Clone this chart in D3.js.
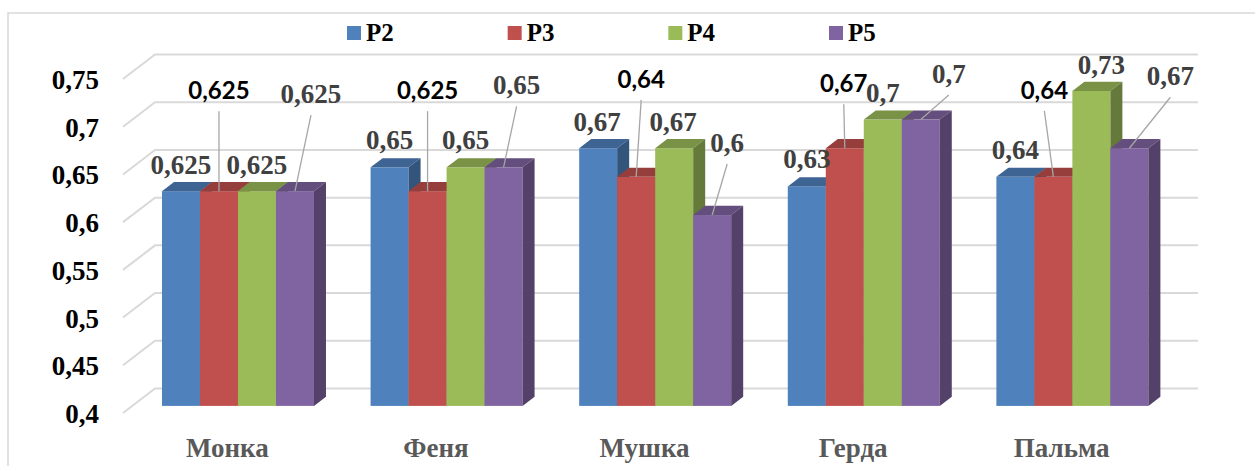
<!DOCTYPE html>
<html><head><meta charset="utf-8">
<script src="https://cdn.jsdelivr.net/npm/d3@7/dist/d3.min.js"></script>
<style>html,body{margin:0;padding:0;background:#fff;}svg{display:block;}
.serif{font-family:"Liberation Serif","Times New Roman",Tinos,"DejaVu Serif",serif;font-weight:bold;}
.sans{font-family:Lato,"Open Sans",sans-serif;font-weight:bold;}
</style>
</head><body>
<svg id="chart" width="1255" height="466"></svg>
<script>
// ---- data ----
const categories = ["Монка", "Феня", "Мушка", "Герда", "Пальма"];
const seriesNames = ["P2", "P3", "P4", "P5"];
const P2 = [0.625, 0.65, 0.67, 0.63, 0.64];
const P3 = [0.625, 0.625, 0.64, 0.67, 0.64];
const P4 = [0.625, 0.65, 0.67, 0.7, 0.73];
const P5 = [0.625, 0.65, 0.6, 0.7, 0.67];
const yTicks = [0.4, 0.45, 0.5, 0.55, 0.6, 0.65, 0.7, 0.75];
const seriesValues = [P2, P3, P4, P5];

// ---- layout (not data) ----
const colors = ["#4F81BD", "#C0504D", "#9BBB59", "#8064A2"];
const DX = 32, DY = -24.5;      // full depth shift
const z0 = 0.29, z1 = 0.665;    // bar depth range
// label offsets [dx, dy] relative to bar front-top centre; leader flags per series
const labelOffsets = [
  [[0,-17],[0,-92],[0,-17],[16,-88]],
  [[0,-18],[0,-92],[0,-18],[13,-73]],
  [[-1,-17],[5,-89],[-1,-17],[15,-63]],
  [[0,-18],[-1,-56],[0,-17.5],[28,-36.5]],
  [[0,-18],[-9,-78],[10,-17],[41,-63]]
];
const hasLeader = [false, true, false, true];

const svg = d3.select("#chart");
const fmt = v => String(v).replace(".", ",");

// frame
svg.append("rect").attr("x", 8).attr("y", 13).attr("width", 1300).attr("height", 500)
  .attr("fill", "none").attr("stroke", "#D9D9D9").attr("stroke-width", 1.5);

const x = d3.scaleBand().domain(categories).range([123, 1166]).padding(0);
const xi = d3.scaleBand().domain(seriesNames).range([29.7, 181.7]).padding(0);
const y = d3.scaleLinear().domain([0.4, 0.75]).range([413, 79]);

// gridlines (back wall + side diagonals)
const grid = svg.append("g").attr("stroke", "#D9D9D9").attr("stroke-width", 2).attr("fill", "none");
yTicks.forEach(t => {
  grid.append("path").attr("d",
    `M${x.range()[0]},${y(t)} L${x.range()[0] + DX},${y(t) + DY} L${x.range()[1] + DX},${y(t) + DY}`);
});

// y-axis labels
svg.append("g").selectAll("text").data(yTicks).join("text")
  .attr("class", "serif")
  .attr("x", 99).attr("y", d => y(d) + 10)
  .attr("text-anchor", "end").attr("font-size", 27)
  .attr("fill", "#000").text(d => fmt(d));

// x-axis labels
svg.append("g").selectAll("text").data(categories).join("text")
  .attr("class", "serif")
  .attr("x", d => x(d) + x.bandwidth() / 2).attr("y", 457)
  .attr("text-anchor", "middle").attr("font-size", 27)
  .attr("fill", "#595959").text(d => d);

// bars
const bars = [];
categories.forEach((c, ci) => {
  seriesNames.forEach((s, si) => {
    const v = seriesValues[si][ci];
    const bx = x(c) + xi(s) + z0 * DX;
    const bw = xi.bandwidth();
    const yb = y(0.4) + z0 * DY;
    const yt = y(v) + z0 * DY;
    const ddx = (z1 - z0) * DX, ddy = (z1 - z0) * DY;
    bars.push({ci, si, v, bx, bw, yb, yt, ddx, ddy});
  });
});
const gb = svg.append("g");
bars.forEach(b => {
  const col = colors[b.si];
  const g = gb.append("g");
  g.append("rect").attr("x", b.bx).attr("y", b.yt).attr("width", b.bw).attr("height", b.yb - b.yt)
    .attr("fill", col);
  g.append("path").attr("d",
    `M${b.bx},${b.yt} L${b.bx + b.ddx},${b.yt + b.ddy} L${b.bx + b.bw + b.ddx},${b.yt + b.ddy} L${b.bx + b.bw},${b.yt} Z`)
    .attr("fill", d3.color(col).darker(0.7));
  g.append("path").attr("d",
    `M${b.bx + b.bw},${b.yt} L${b.bx + b.bw + b.ddx},${b.yt + b.ddy} L${b.bx + b.bw + b.ddx},${b.yb + b.ddy} L${b.bx + b.bw},${b.yb} Z`)
    .attr("fill", d3.color(col).darker(1.2));
});

// data labels
const gl = svg.append("g");
bars.forEach(b => {
  const cx = b.bx + b.bw / 2;
  const off = labelOffsets[b.ci][b.si];
  const lx = cx + off[0], ly = b.yt + off[1];
  if (hasLeader[b.si]) {
    gl.append("line").attr("x1", lx).attr("y1", ly + 12).attr("x2", cx).attr("y2", b.yt)
      .attr("stroke", "#A6A6A6").attr("stroke-width", 1.3);
  }
  const isSans = b.si === 1;
  gl.append("text").attr("class", isSans ? "sans" : "serif")
    .attr("x", lx).attr("y", ly).attr("text-anchor", "middle")
    .attr("font-size", isSans ? 24 : 27)
    .attr("fill", isSans ? "#000" : "#404040").text(fmt(b.v));
});

// legend
const legX = d3.scaleLinear().domain([0, 3]).range([347, 829]);
const lg = svg.append("g");
seriesNames.forEach((s, i) => {
  lg.append("rect").attr("x", legX(i)).attr("y", 26).attr("width", 14).attr("height", 14).attr("fill", colors[i]);
  lg.append("text").attr("class", "serif").attr("x", legX(i) + 19).attr("y", 41)
    .attr("font-size", 25).attr("fill", "#000").text(s);
});
</script>
</body></html>
